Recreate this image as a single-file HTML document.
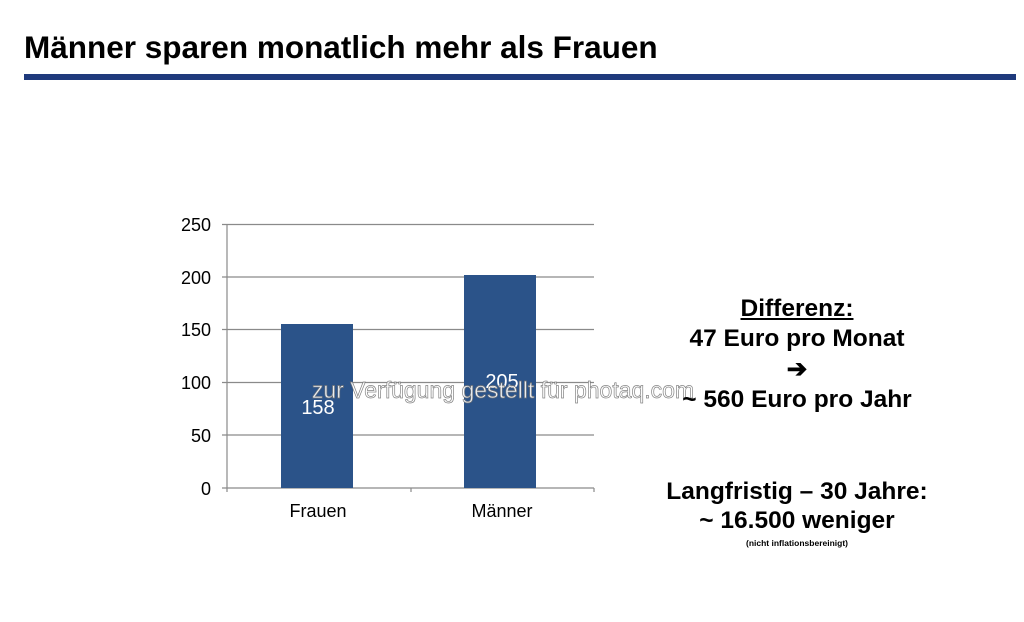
<!DOCTYPE html>
<html><head><meta charset="utf-8"><style>
body{margin:0;width:1024px;height:622px;background:#fff;position:relative;overflow:hidden;font-family:"Liberation Sans",sans-serif}
.a{position:absolute;white-space:nowrap}
.c{position:absolute;left:597px;width:400px;text-align:center;font-weight:bold;color:#000;white-space:nowrap}
</style></head><body>
<div class="a" style="left:24px;top:29px;font-size:31.5px;font-weight:bold">Männer sparen monatlich mehr als Frauen</div>
<div class="a" style="left:24px;top:74px;width:992px;height:6px;background:#1f3a7c"></div>
<svg class="a" style="left:0;top:0" width="1024" height="622">
<g stroke="#8a8a8a" stroke-width="1.2">
<line x1="222" x2="594" y1="224.5" y2="224.5"/><line x1="222" x2="594" y1="277" y2="277"/>
<line x1="222" x2="594" y1="329.5" y2="329.5"/><line x1="222" x2="594" y1="382.5" y2="382.5"/>
<line x1="222" x2="594" y1="435" y2="435"/><line x1="222" x2="594" y1="488" y2="488"/>
<line x1="227" x2="227" y1="224" y2="492"/><line x1="411" x2="411" y1="488" y2="492"/><line x1="594" x2="594" y1="488" y2="492"/>
</g>
<rect x="281" y="324" width="72" height="164" fill="#2b5389"/>
<rect x="464" y="275" width="72" height="213" fill="#2b5389"/>
<g font-size="18" text-anchor="end" fill="#000">
<text x="211" y="231">250</text><text x="211" y="284">200</text><text x="211" y="336">150</text>
<text x="211" y="389">100</text><text x="211" y="442">50</text><text x="211" y="495">0</text>
</g>
<g font-size="18" text-anchor="middle"><text x="318" y="517">Frauen</text><text x="502" y="517">Männer</text></g>
<g font-size="20" text-anchor="middle" fill="#fff"><text x="318" y="414">158</text><text x="502" y="388">205</text></g>
<text x="503" y="398" text-anchor="middle" font-size="23" fill="#fff" stroke="#777" stroke-width="0.7" opacity="0.9">zur Verfügung gestellt für photaq.com</text>
</svg>
<div class="c" style="top:295px;font-size:24.5px;text-decoration:underline">Differenz:</div>
<div class="c" style="top:325px;font-size:24.5px">47 Euro pro Monat</div>
<div class="c" style="top:354px;font-size:24.5px">➔</div>
<div class="c" style="top:386px;font-size:24.5px">~ 560 Euro pro Jahr</div>
<div class="c" style="top:478px;font-size:24.5px">Langfristig – 30 Jahre:</div>
<div class="c" style="top:507px;font-size:24.5px">~ 16.500 weniger</div>
<div class="c" style="top:538px;font-size:8.5px">(nicht inflationsbereinigt)</div>
</body></html>
